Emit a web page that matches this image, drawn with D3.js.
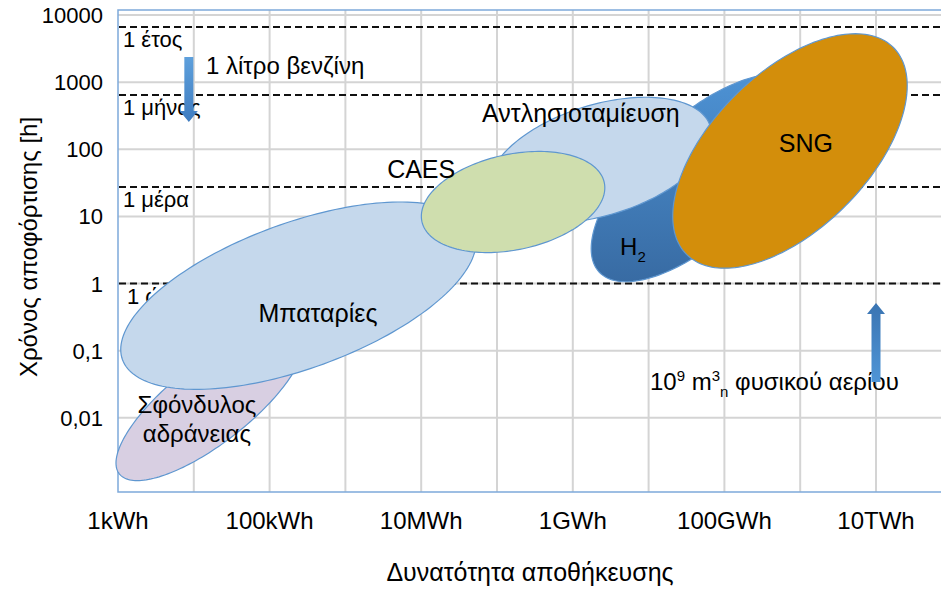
<!DOCTYPE html>
<html>
<head>
<meta charset="utf-8">
<script src="https://cdn.jsdelivr.net/npm/d3@7"></script>
<style>
	body { margin:0; background:#fff; }
	svg text { font-family: "Liberation Sans", Arial, sans-serif; fill:#000; }
</style>
</head>
<body>
<svg id="chart" width="941" height="593"></svg>
<script>
"use strict";

// storage technologies (energy in kWh, discharge time in h, spans in decades)
var techs = ['flywheel', 'battery', 'h2', 'pumped', 'caes', 'sng'];
var techEnergy = [16.4, 240, 4.77e7, 2.29e6, 1.63e5, 7.33e8];
var techHours = [0.0167, 0.66, 37.4, 69.3, 16.4, 94.4];
var techMajor = [1.52, 2.47, 1.82, 1.52, 1.23, 1.93];
var techMinor = [0.53, 0.96, 0.79, 0.73, 0.63, 1.03];
var techTilt = [38, 20, 43, 17, 12, 45];
var techFill = ['#d8cfe2', '#c5d8ec', 'url(#h2grad)', '#c5d8ec', '#cfdeae', '#d38e0b'];

// labels of the ellipses
var labelText = ['Σφόνδυλος', 'αδράνειας', 'Μπαταρίες', 'CAES', 'Αντλησιοταμίευση', 'SNG'];
var labelEnergy = [11.0, 11.0, 435, 1.0e4, 1.28e6, 1.19e9];
var labelHours = [0.0118, 0.0043, 0.268, 37.4, 255, 91.2];

// reference times
var refHours = [6640, 644, 27.5, 1];
var refText = ['1 έτος', '1 μήνας', '1 μέρα', '1 ώρα'];

// axis ticks
var xTicks = [1, 10, 100, 1e3, 1e4, 1e5, 1e6, 1e7, 1e8, 1e9, 1e10];
var xTickText = ['1kWh', '', '100kWh', '', '10MWh', '', '1GWh', '', '100GWh', '', '10TWh'];
var yTicks = [10000, 1000, 100, 10, 1, 0.1, 0.01];
var yTickText = ['10000', '1000', '100', '10', '1', '0,1', '0,01'];

var svg = d3.select('#chart');

var x = d3.scaleLog().domain([1, 1e10]).range([118, 876]);
var y = d3.scaleLog().domain([0.001, 10000]).range([485, 15]);
var dec = x(10) - x(1);

//*-*-*-*-*-*-*-*-*-*-*-*-*-*-*-*-*-*-*-*-*-
//	gradients for arrows and H2
//*-*-*-*-*-*-*-*-*-*-*-*-*-*-*-*-*-*-*-*-*-
var defs = svg.append('defs');
function vgrad(id, top, bottom)
{
	var g = defs.append('linearGradient').attr('id', id)
		.attr('x1', 0).attr('y1', 0).attr('x2', 0).attr('y2', 1);
	g.append('stop').attr('offset', '0%').attr('stop-color', top);
	g.append('stop').attr('offset', '100%').attr('stop-color', bottom);
}
vgrad('h2grad', '#4d92d4', '#386ba3');
vgrad('downgrad', '#5ea0dc', '#3f7cc0');
vgrad('upgrad', '#3a74b2', '#4f95d6');

//*-*-*-*-*-*-*-*-*-*-*-*-*-*-*-*-*-*-*-
//      ***GRID AND FRAME***
//*-*-*-*-*-*-*-*-*-*-*-*-*-*-*-*-*-*-*
svg.append('g').selectAll('line').data(xTicks.slice(1)).enter()
	.append('line')
		.attr('x1', function(d){ return x(d); }).attr('x2', function(d){ return x(d); })
		.attr('y1', 10).attr('y2', 492)
		.attr('stroke', '#d4d4d4').attr('stroke-width', 2);
svg.append('g').selectAll('line').data(yTicks).enter()
	.append('line')
		.attr('x1', 118).attr('x2', 941)
		.attr('y1', function(d){ return y(d); }).attr('y2', function(d){ return y(d); })
		.attr('stroke', '#d4d4d4').attr('stroke-width', 2);
// frame
svg.append('path').attr('d', 'M941,10H118V492H941')
	.attr('fill', 'none').attr('stroke', '#7ea9da').attr('stroke-width', 1.5);

//*-*-*-*-*-*-*-*-*-*-*-*-*-*-*-*-*-*-*-*-*-*-*-*-*-*-*-*-*-*-
// *** reference lines + their labels ***
//*-*-*-*-*-*-*-*-*-*-*-*-*-*-*-*-*-*-*-*-*-*-*-*-*-*-*-*-*-*-
svg.append('g').selectAll('line').data(refHours).enter()
	.append('line')
		.attr('x1', 119).attr('x2', 941)
		.attr('y1', function(d){ return y(d); }).attr('y2', function(d){ return y(d); })
		.attr('stroke', '#111').attr('stroke-width', 2).attr('stroke-dasharray', '7,4');
svg.append('g').selectAll('text').data(refHours).enter()
	.append('text')
		.attr('x', function(d, i){ return i == 3 ? 127 : 123; })
		.attr('y', function(d){ return y(d) + 20; })
		.style('font-size', '22px')
		.text(function(d, i){ return refText[i]; });

//*-*-*-*-*-*-*-*-*-*-*-*-*-*-*-*-*-*-*-*-*-*-*-*-*-*-*-*-*-*-
// *** ellipses (as paths so the H2 gradient stays vertical) ***
//*-*-*-*-*-*-*-*-*-*-*-*-*-*-*-*-*-*-*-*-*-*-*-*-*-*-*-*-*-*-
var steps = d3.range(0, 2 * Math.PI, Math.PI / 90);
var outline = d3.line().curve(d3.curveLinearClosed);
function ellipsePath(i)
{
	var cx = x(techEnergy[i]), cy = y(techHours[i]);
	var a = techMajor[i] * dec, b = techMinor[i] * dec;
	var t = techTilt[i] * Math.PI / 180;
	return outline(steps.map(function(s)
	{
		var u = a * Math.cos(s), v = b * Math.sin(s);
		return [cx + u * Math.cos(t) - v * Math.sin(t), cy - u * Math.sin(t) - v * Math.cos(t)];
	}));
}
svg.append('g').selectAll('path').data(techs).enter()
	.append('path')
		.attr('d', function(d, i){ return ellipsePath(i); })
		.attr('fill', function(d, i){ return techFill[i]; })
		.attr('stroke', '#5f97d0').attr('stroke-width', 1.2);

svg.append('g').selectAll('text').data(labelText).enter()
	.append('text')
		.attr('x', function(d, i){ return x(labelEnergy[i]); })
		.attr('y', function(d, i){ return y(labelHours[i]); })
		.attr('text-anchor', 'middle')
		.style('font-size', function(d, i){ return i < 2 ? '24px' : '25px'; })
		.text(function(d){ return d; });

// H2 with subscript
var h2 = svg.append('text')
	.attr('x', x(4.2e6)).attr('y', y(2.67))
	.style('font-size', '24px');
h2.append('tspan').text('H');
h2.append('tspan').attr('dy', 7).style('font-size', '15px').text('2');

//*-*-*-*-*-*-*-*-*-*-*-*-*-*-*-*-*-*-*-*-*-*-*-*-*-*-*-*-*-*-
// *** arrows: 1 litre gasoline, 10^9 m3 natural gas ***
//*-*-*-*-*-*-*-*-*-*-*-*-*-*-*-*-*-*-*-*-*-*-*-*-*-*-*-*-*-*-
function arrow(energy, fromH, toH, fill)
{
	var cx = x(energy), y0 = y(fromH), y1 = y(toH);
	var s = y1 > y0 ? 1 : -1, head = 11;
	var p = d3.path();
	p.moveTo(cx - 4.5, y0);
	p.lineTo(cx - 4.5, y1 - s * head);
	p.lineTo(cx - 9, y1 - s * head);
	p.lineTo(cx, y1);
	p.lineTo(cx + 9, y1 - s * head);
	p.lineTo(cx + 4.5, y1 - s * head);
	p.lineTo(cx + 4.5, y0);
	p.closePath();
	svg.append('path').attr('d', p.toString()).attr('fill', fill);
}

svg.append('text').attr('x', 206).attr('y', y(2370) + 17)
	.style('font-size', '24px').text('1 λίτρο βενζίνη');
arrow(8.6, 2370, 255, 'url(#downgrad)');

var gas = svg.append('text').attr('x', 650).attr('y', 390).style('font-size', '24px');
gas.append('tspan').text('10');
gas.append('tspan').attr('dy', -9).style('font-size', '15px').text('9');
gas.append('tspan').attr('dy', 9).text(' m');
gas.append('tspan').attr('dy', -9).style('font-size', '15px').text('3');
gas.append('tspan').attr('dy', 16).style('font-size', '15px').text('n');
gas.append('tspan').attr('dy', -7).text(' φυσικού αερίου');
arrow(1e10, 0.0342, 0.514, 'url(#upgrad)');

//*-*-*-*-*-*-*-*-*-*-*-*-*-*-*-*-*-*-*-*-*-*-*-*-*-*-*-*-*-*-
// *** axes labels ***
//*-*-*-*-*-*-*-*-*-*-*-*-*-*-*-*-*-*-*-*-*-*-*-*-*-*-*-*-*-*-
svg.append('g').selectAll('text').data(xTicks).enter()
	.append('text')
		.attr('x', function(d){ return x(d); })
		.attr('y', 529)
		.attr('text-anchor', 'middle')
		.style('font-size', '24px')
		.text(function(d, i){ return xTickText[i]; });
svg.append('g').selectAll('text').data(yTicks).enter()
	.append('text')
		.attr('x', 103)
		.attr('y', function(d){ return y(d) + 8; })
		.attr('text-anchor', 'end')
		.style('font-size', '22px')
		.text(function(d, i){ return yTickText[i]; });

svg.append('text').attr('x', 530).attr('y', 581).attr('text-anchor', 'middle')
	.style('font-size', '25px').text('Δυνατότητα αποθήκευσης');
svg.append('text').attr('transform', 'translate(37,247) rotate(-90)').attr('text-anchor', 'middle')
	.style('font-size', '24px').text('Χρόνος αποφόρτισης [h]');
</script>
</body>
</html>
